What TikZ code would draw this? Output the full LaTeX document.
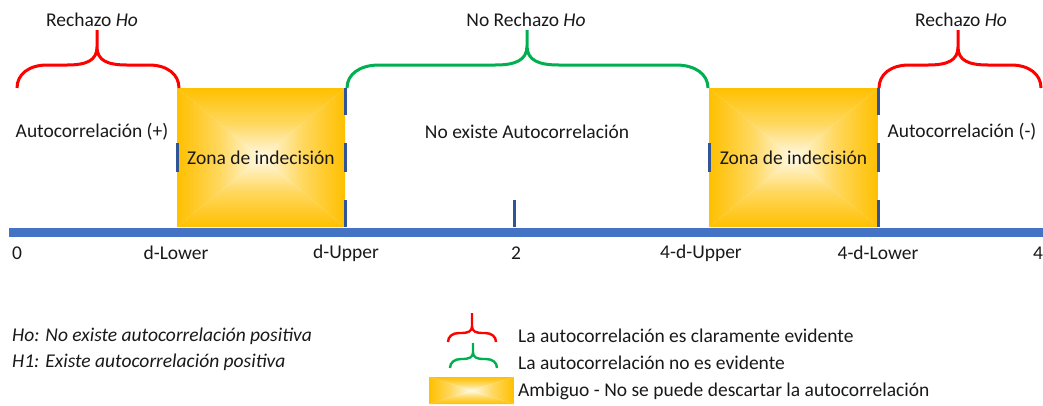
\documentclass[tikz,border=0pt]{standalone}
\usepackage{fontspec}
\setmainfont{Carlito}
\definecolor{axisblue}{HTML}{4472C4}
\definecolor{tickblue}{HTML}{2F5597}
\definecolor{bred}{HTML}{FF0000}
\definecolor{bgreen}{HTML}{00B050}
\definecolor{zyellow}{HTML}{FFC000}
\definecolor{zlight}{HTML}{FFFAE8}
\newcommand\bracepath[7]{% xa, xb, xm, ybottom, yshoulder, ytop, r
  (#1,#4) .. controls (#1,#5+0.4*#4-0.4*#5) and (#1+0.4*#7,#5) .. (#1+#7,#5)
  -- (#3-#7,#5) .. controls (#3-0.35*#7,#5) and (#3,#5-0.15*#7) .. (#3,#5-0.6*#7)
  -- (#3,#6)
  (#3,#5-0.6*#7) .. controls (#3,#5-0.15*#7) and (#3+0.35*#7,#5) .. (#3+#7,#5)
  -- (#2-#7,#5) .. controls (#2-0.4*#7,#5) and (#2,#5+0.4*#4-0.4*#5) .. (#2,#4)}
\tikzset{
  txt/.style={font=\fontsize{19.5}{23}\selectfont, inner sep=0pt, text=black!90},
  zona/.style={inner sep=0pt, outer sep=0pt,
    path picture={
      \coordinate (pnw) at (path picture bounding box.north west);
      \coordinate (pne) at (path picture bounding box.north east);
      \coordinate (psw) at (path picture bounding box.south west);
      \coordinate (pse) at (path picture bounding box.south east);
      \coordinate (pc) at (path picture bounding box.center);
      \shade[top color=zyellow, bottom color=zlight, middle color=zyellow!60!zlight] (pnw) -- (pne) -- (pc) -- cycle;
      \shade[top color=zlight, bottom color=zyellow, middle color=zyellow!60!zlight] (psw) -- (pse) -- (pc) -- cycle;
      \shade[left color=zyellow, right color=zlight, middle color=zyellow!60!zlight] (pnw) -- (psw) -- (pc) -- cycle;
      \shade[left color=zlight, right color=zyellow, middle color=zyellow!60!zlight] (pne) -- (pse) -- (pc) -- cycle;
    }},
  tickline/.style={draw=tickblue, line width=3pt},
  bracered/.style={draw=bred, line width=3pt},
  bracegreen/.style={draw=bgreen, line width=3pt},
  legred/.style={draw=bred, line width=2.4pt},
  leggreen/.style={draw=bgreen, line width=2.4pt},
}
\begin{document}
\begin{tikzpicture}[x=1pt,y=-1pt]
\useasboundingbox (0,0) rectangle (1043,405);

% zones
\node[zona, minimum width=168pt, minimum height=139pt, anchor=north west] (z1) at (177,88) {};
\node[zona, minimum width=169pt, minimum height=139pt, anchor=north west] (z2) at (709,88) {};
\node[txt] (z1t) at (z1.center) {Zona de indecisión};
\node[txt] (z2t) at (z2.center) {Zona de indecisión};

% axis
\coordinate (ax0) at (9,232);
\coordinate (ax1) at (1043,232);
\draw[axisblue, line width=9pt] (ax0) -- (ax1);

% ticks
\draw[tickline] (345,88) -- (345,115) (345,143) -- (345,172) (345,200) -- (345,227);
\draw[tickline] (177,143) -- (177,172);
\draw[tickline] (709,143) -- (709,172);
\draw[tickline] (878,88) -- (878,115) (878,143) -- (878,172) (878,200) -- (878,227);
\draw[tickline] (514,200) -- (514,227);

% axis labels
\node[txt] (l0) at (17,253) {0};
\node[txt] (l1) at (176,253) {d-Lower};
\node[txt] (l2) at (346,253) {d-Upper};
\node[txt] (l3) at (516,253) {2};
\node[txt] (l4) at (701,253) {4-d-Upper};
\node[txt] (l5) at (878,253) {4-d-Lower};
\node[txt] (l6) at (1038,253) {4};

% braces
\draw[bracered] \bracepath{17}{179}{97}{88}{65}{30}{30};
\draw[bracegreen] \bracepath{347}{708}{527}{88}{65}{30}{32};
\draw[bracered] \bracepath{879}{1041}{958}{88}{65}{30}{30};

\node[txt] (h1) at (92,20) {Rechazo \textit{Ho}};
\node[txt] (h2) at (526,20) {No Rechazo \textit{Ho}};
\node[txt] (h3) at (961,20) {Rechazo \textit{Ho}};

% region texts
\node[txt] (r1) at (92,132) {Autocorrelación (+)};
\node[txt] (r2) at (527,132) {No existe Autocorrelación};
\node[txt] (r3) at (962,132) {Autocorrelación (-)};

% hypotheses
\node[txt, anchor=west] (ho) at (12,336) {\textit{Ho: No existe autocorrelación positiva}};
\node[txt, anchor=west] (ha) at (12,362) {\textit{H1: Existe autocorrelación positiva}};

% legend
\draw[legred] \bracepath{448}{496}{472}{342}{333}{313}{11};
\draw[leggreen] \bracepath{450}{497}{473}{368}{359}{343}{11};
\node[zona, minimum width=85pt, minimum height=27pt, anchor=north west] (lz) at (429,377) {};
\node[txt, anchor=west] (lt1) at (518,336) {La autocorrelación es claramente evidente};
\node[txt, anchor=west] (lt2) at (518,363) {La autocorrelación no es evidente};
\node[txt, anchor=west] (lt3) at (518,391) {Ambiguo - No se puede descartar la autocorrelación};
\end{tikzpicture}
\end{document}
